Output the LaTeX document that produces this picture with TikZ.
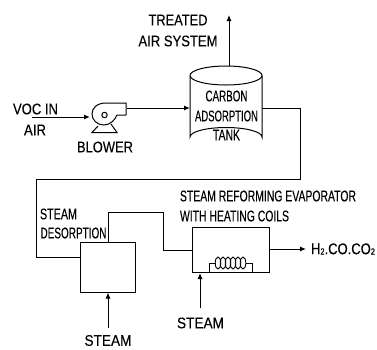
\documentclass[tikz,border=0pt]{standalone}
\usepackage{fontspec}
\setmainfont{Liberation Sans}
\newfontfamily\lblf{Liberation Sans}[FakeBold=0.25]
\usetikzlibrary{arrows.meta,calc}
\newcommand{\fitw}[2]{\resizebox{#1pt}{\height}{#2}}
\tikzset{
  lbl/.style={inner sep=0pt,font=\lblf\fontsize{15.5}{17}\selectfont,text=black},
  pipe/.style={line width=1pt,black,line join=miter},
  flow/.style={pipe,-{Latex[length=6pt,width=5pt]}},
  vessel/.style={draw=black,line width=1pt,inner sep=0pt,fill=none},
}
\begin{document}
\begin{tikzpicture}[x=1pt,y=-1pt]
\useasboundingbox (0,0) rectangle (377,349);
% labels
\node[lbl] (treated) at (178,20) {\fitw{59}{TREATED}};
\node[lbl] (airsys) at (178,41) {\fitw{79}{AIR SYSTEM}};
\node[lbl] (voc) at (35.5,109) {\fitw{45}{VOC IN}};
\node[lbl] (air) at (35,130) {\fitw{22}{AIR}};
\node[lbl] (blowerlbl) at (105,147) {\fitw{56}{BLOWER}};
\node[lbl] (carbon) at (226.5,96) {\fitw{42}{CARBON}};
\node[lbl] (adsorption) at (226.5,116) {\fitw{63}{ADSORPTION}};
\node[lbl] (tanklbl) at (226.5,135) {\fitw{27}{TANK}};
\node[lbl] (desa) at (58.5,214) {\fitw{37}{STEAM}};
\node[lbl] (desb) at (73.5,233) {\fitw{66}{DESORPTION}};
\node[lbl] (steama) at (108,340.5) {\fitw{47}{STEAM}};
\node[lbl] (srea) at (268,196) {\fitw{176}{STEAM REFORMING EVAPORATOR}};
\node[lbl] (sreb) at (234.5,216) {\fitw{109}{WITH HEATING COILS}};
\node[lbl] (prod) at (343,249) {\fitw{64}{H\raisebox{-0.5pt}{\fontsize{9}{9}\selectfont 2}.CO.CO\raisebox{-0.5pt}{\fontsize{9}{9}\selectfont 2}}};
\node[lbl] (steamb) at (200.5,323) {\fitw{47}{STEAM}};
% vessels
\node[vessel,minimum width=55pt,minimum height=50pt] (desorber) at (107.5,267) {};
\node[vessel,minimum width=77pt,minimum height=45pt] (evap) at (230.5,249.5) {};
% tank
\coordinate (tankT) at (226,66);
\coordinate (tankE) at (262,108);
\coordinate (tankW) at (190,108);
\draw[pipe] (190,75.5) arc[start angle=180,end angle=-180,x radius=36,y radius=9.5];
\draw[pipe] (190,75.5) -- (190,137) arc[start angle=180,end angle=360,x radius=36,y radius=9.5] -- (262,75.5);
% blower
\coordinate (blowerIn) at (90,117);
\coordinate (blowerOut) at (127,108);
\draw[pipe] (126,115) -- (126,103) -- (106,103)
  .. controls (97,103) and (92,108) .. (92,114)
  .. controls (92,120) and (97,125) .. (104,125)
  .. controls (110,125) and (115,120) .. (117,115) -- (126,115);
\draw[pipe] (104.5,115) circle[radius=2.7];
\draw[pipe] (98,126) -- (92,132.5) -- (117,132.5) -- (111,124);
% coil
\coordinate (ca) at (209,272);
\coordinate (cb) at (252,272);
\draw[pipe] (ca) -- (209,263.5) -- (216,263.5);
\draw[pipe] (246,263.5) -- (252,263.5) -- (cb);
\foreach \i in {0,...,5}
  \draw[pipe,line width=0.9pt] (218+\i*5,263) ellipse[x radius=2.8,y radius=6];
% connectors
\coordinate (topT) at (229,15);
\coordinate (vocS) at (32,117);
\draw[flow] (229,66) -- (topT);
\draw[flow] (vocS) -- (blowerIn);
\draw[flow] (blowerOut) -- (tankW);
\coordinate (b1) at (300,108);
\coordinate (b2) at (300,179);
\coordinate (b3) at (36.5,179);
\coordinate (b4) at (36.5,257);
\draw[pipe] (tankE) -- (b1) -- (b2) -- (b3) -- (b4) -- (b4 -| desorber.west);
\coordinate (c1) at (108,212);
\coordinate (c2) at (163,212);
\coordinate (c3) at (163,250);
\draw[pipe] (c1 |- desorber.north) -- (c1) -- (c2) -- (c3) -- (c3 -| evap.west);
\coordinate (prodW) at (306,249);
\draw[flow] (evap.east |- prodW) -- (prodW);
\coordinate (s1) at (108,328);
\draw[flow] (s1) -- (s1 |- desorber.south);
\coordinate (s2) at (200,308);
\draw[flow] (s2) -- (200,273);
\end{tikzpicture}
\end{document}
